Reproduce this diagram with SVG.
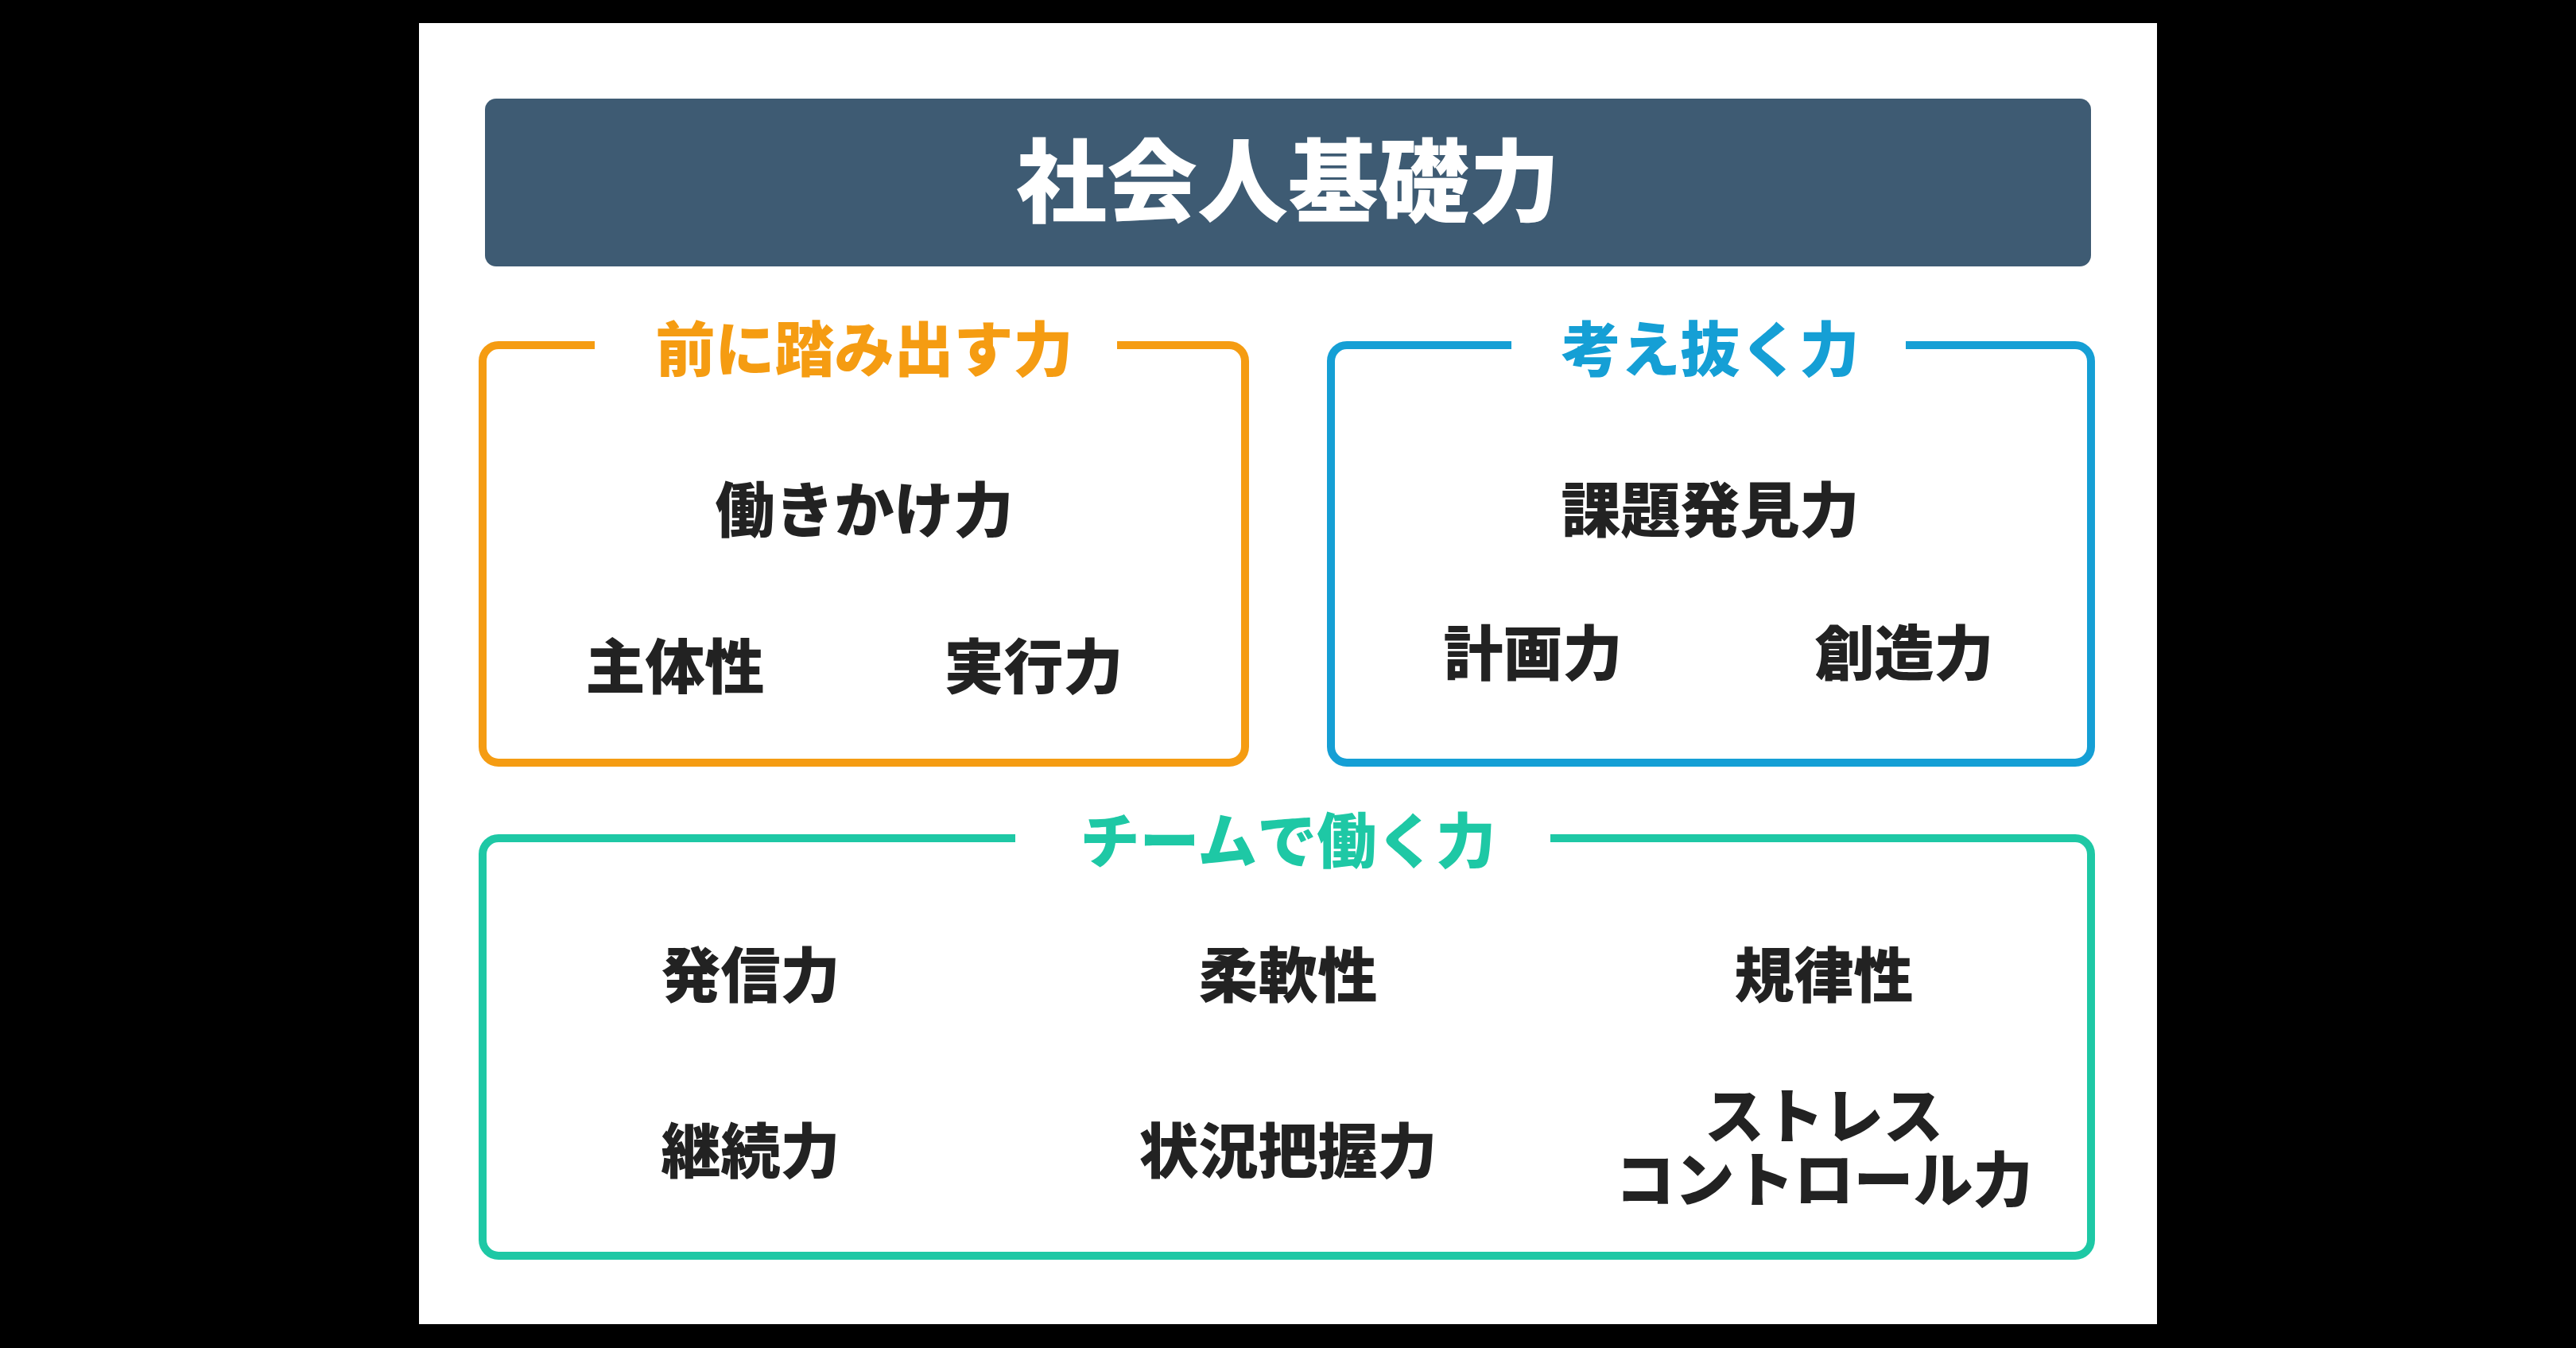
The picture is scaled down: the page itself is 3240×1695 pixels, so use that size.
<svg xmlns="http://www.w3.org/2000/svg" width="3240" height="1695" viewBox="0 0 3240 1695">
<style>
text{font-family:"Noto Sans CJK JP","Noto Sans",sans-serif;font-weight:900;text-anchor:middle;dominant-baseline:central}
.item{font-size:75px;fill:#222}
.box{fill:none;stroke-width:10}
.hd{font-size:75px}
</style>
<rect width="3240" height="1695" fill="#000"/>
<rect x="527" y="29" width="2186" height="1636" fill="#fff"/>
<g id="title"><rect x="610" y="124" width="2020" height="211" rx="14" fill="#3e5b73"/>
<text x="1620" y="220" font-size="114" fill="#fff">社会人基礎力</text></g>
<g id="connectors"></g>
<g id="maeni">
<path class="box" stroke="#f59c12" d="M748 434H627a20 20 0 0 0-20 20V939a20 20 0 0 0 20 20H1546a20 20 0 0 0 20-20V454a20 20 0 0 0-20-20H1405"/>
<text class="hd" x="1087" y="434" fill="#f59c12">前に踏み出す力</text>
<text class="item" x="1087" y="636">働きかけ力</text>
<text class="item" x="849" y="833">主体性</text>
<text class="item" x="1300" y="833">実行力</text></g>
<g id="kangae">
<path class="box" stroke="#159fd5" d="M1901 434H1694a20 20 0 0 0-20 20V939a20 20 0 0 0 20 20H2610a20 20 0 0 0 20-20V454a20 20 0 0 0-20-20H2397"/>
<text class="hd" x="2151" y="434" fill="#159fd5">考え抜く力</text>
<text class="item" x="2151" y="636">課題発見力</text>
<text class="item" x="1928" y="816">計画力</text>
<text class="item" x="2395" y="816">創造力</text></g>
<g id="team">
<path class="box" stroke="#1ec8a5" d="M1277 1054H627a20 20 0 0 0-20 20V1559a20 20 0 0 0 20 20H2610a20 20 0 0 0 20-20V1074a20 20 0 0 0-20-20H1950"/>
<text class="hd" x="1620" y="1052" fill="#1ec8a5">チームで働く力</text>
<text class="item" x="944" y="1221">発信力</text>
<text class="item" x="1620" y="1221">柔軟性</text>
<text class="item" x="2294" y="1221">規律性</text>
<text class="item" x="944" y="1442">継続力</text>
<text class="item" x="1620" y="1442">状況把握力</text>
<text class="item" x="2294" y="1398">ストレス</text>
<text class="item" x="2294" y="1478">コントロール力</text></g>
</svg>
